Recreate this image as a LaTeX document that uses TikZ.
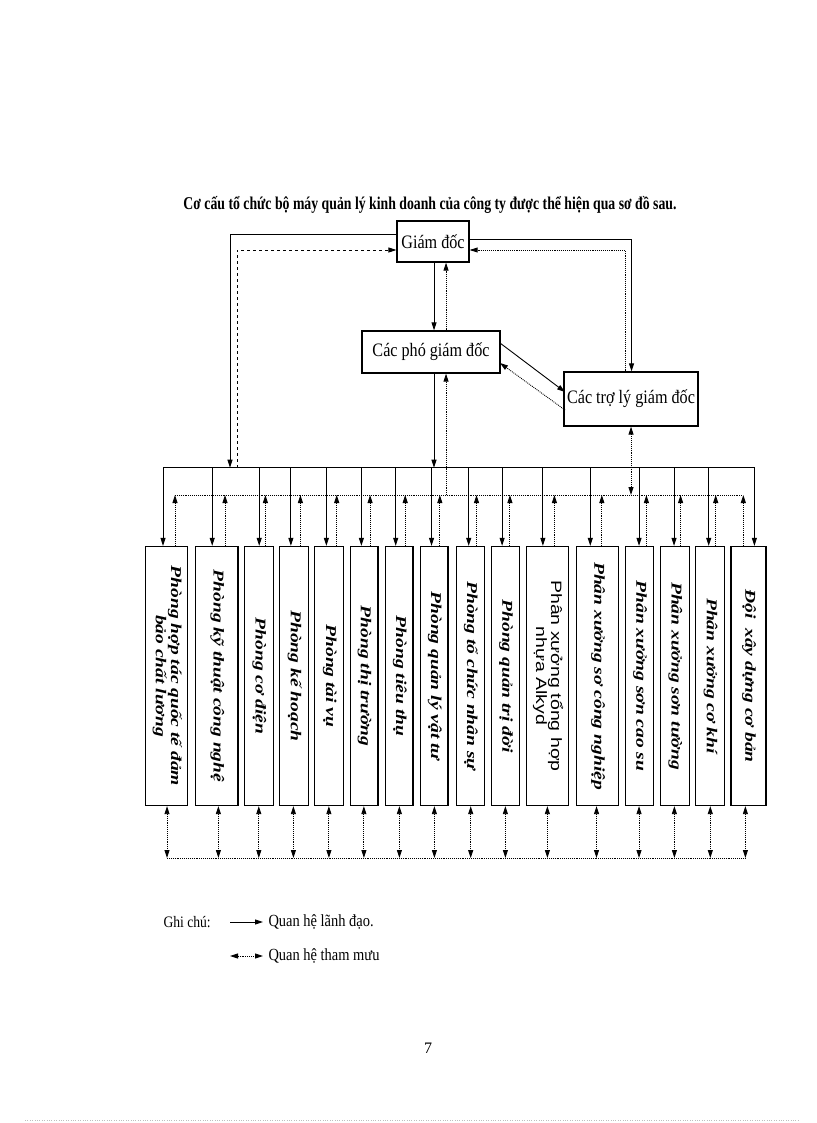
\documentclass[tikz,border=0pt]{standalone}
\usepackage{fontspec}
\setmainfont{Liberation Serif}
\newfontfamily\sansf{Liberation Sans}
\usetikzlibrary{arrows.meta}
\begin{document}
\begin{tikzpicture}[x=1pt,y=-1pt,
  box/.style={draw,line width=1.3pt,inner sep=0pt},
  lead/.style={line width=0.9pt,-{Triangle[length=8pt,width=5pt]}},
  lead0/.style={line width=0.9pt},
  adv/.style={densely dotted,line width=0.9pt,-{Triangle[length=8pt,width=5pt]}},
  adv0/.style={densely dotted,line width=0.9pt},
  advb/.style={densely dotted,line width=0.9pt,{Triangle[length=8pt,width=5pt]}-{Triangle[length=8pt,width=5pt]}},
  vt/.style={rotate=-90,font=\fontsize{15}{14}\selectfont\bfseries\itshape,inner sep=0pt}]
\useasboundingbox (0,0) rectangle (816,1123);
\node (title) at (430,205) {\scalebox{0.765}[1]{\fontsize{18}{20}\selectfont\bfseries Cơ cấu tổ chức bộ máy quản lý kinh doanh của công ty được thể hiện qua sơ đồ sau.}};
\node[box,minimum width=72pt,minimum height=41pt] (gd) at (433,241.5) {\scalebox{0.85}[1]{\fontsize{19}{20}\selectfont Giám đốc}};
\node[box,minimum width=138pt,minimum height=42pt] (pgd) at (431,352) {\scalebox{0.85}[1]{\fontsize{19}{20}\selectfont Các phó giám đốc}};
\node[box,minimum width=134pt,minimum height=54pt] (tl) at (631,399) {\scalebox{0.85}[1]{\fontsize{19}{20}\selectfont Các trợ lý giám đốc}};
% buses
\coordinate (bL) at (163,467.7); \coordinate (bR) at (755,467.7);
\coordinate (dL) at (175,495); \coordinate (dR) at (743,495);
\coordinate (eL) at (167,858); \coordinate (eR) at (745,858);
\draw[lead0] (bL) -- (bR);
\draw[adv0] (dL) -- (dR);
\draw[adv0] (eL) -- (eR);
% GD left
\coordinate (l1) at (230,234); \coordinate (l1b) at (230,467.7);
\draw[lead] (gd.west |- l1) -- (l1) -- (l1b);
\coordinate (l2) at (237,250); \coordinate (l2b) at (237,467.7);
\draw[adv,dashed] (l2b) -- (l2) -- (gd.west |- l2);
% GD right
\coordinate (r1) at (631.5,239);
\draw[lead] (gd.east |- r1) -- (r1) -- (r1 |- tl.north);
\coordinate (r2) at (625,250);
\draw[adv] (tl.north -| r2) -- (r2) -- (gd.east |- r2);
% GD - PGD
\coordinate (c1) at (434,0); \coordinate (c2) at (446,0);
\draw[lead] (gd.south -| c1) -- (pgd.north -| c1);
\draw[adv] (pgd.north -| c2) -- (gd.south -| c2);
\draw[lead] (pgd.south -| c1) -- (bL -| c1);
\draw[adv] (dL -| c2) -- (pgd.south -| c2);
% PGD - TL
\coordinate (p1) at (500,343); \coordinate (t1) at (565,392);
\coordinate (p2) at (500,363); \coordinate (t2) at (565,410);
\draw[lead] (p1) -- (t1);
\draw[adv] (t2) -- (p2);
\draw[advb] (tl.south) -- (dR -| tl.south);
% boxes
\foreach \i/\a/\b/\s/\d/\e/\t in {
 1/145.8/187.8/163/175/167/{Phòng hợp tác quốc tế đảm\\bảo chất lương},
 2/195.3/238.1/212.2/225/218.4/{Phòng kỹ thuật công nghệ},
 3/244.3/273.2/259.2/265.4/258.8/{Phòng cơ điện},
 4/279.8/308.7/290.9/300.4/293.4/{Phòng kế hoạch},
 5/314.8/343.7/326.4/336.7/328.9/{Phòng tài vụ},
 6/350.3/377.9/361.4/370.1/363.9/{Phòng thị trường},
 7/385.8/413/395.7/405.2/399.4/{Phòng tiêu thụ},
 8/420.8/448/431.5/439.8/434.4/{Phòng quản lý vật tư},
 9/456.3/484.7/468.7/476.5/470.7/{Phòng tổ chức nhân sự},
 10/491.3/519.8/502.1/509.9/505.4/{Phòng quản trị đời},
 11/526.8/568.5/542.9/554.4/547.4/{\sansf\mdseries\upshape Phân xưởng tổng hợp\\\sansf\mdseries\upshape nhựa Alkyd},
 12/576.3/618.8/590.3/601.8/596.5/{Phân xưởng sơ công nghiệp},
 13/625.4/653.8/639/646.4/639/{Phân xưởng sơn cao su},
 14/660.4/689.3/674/680.6/674.4/{Phân xưởng sơn tường},
 15/695.5/724.7/708.7/715.7/710.3/{Phân xưởng cơ khí},
 16/730.9/766/754.4/743.3/745.4/{Đội \ xây dựng cơ bản}}{
  \node[box,minimum width={\b-\a},minimum height=259pt] (k\i) at ({(\a+\b)/2},676) {};
  \node[vt] (t\i) at (k\i.center) {\scalebox{1.3}[1]{\begin{tabular}{@{}c@{}}\t\end{tabular}}};
  \coordinate (s\i) at (\s,467.7);
  \coordinate (d\i) at (\d,495);
  \coordinate (e\i) at (\e,858);
  \draw[lead] (s\i) -- (k\i.north -| s\i);
  \draw[adv] (k\i.north -| d\i) -- (d\i);
  \draw[advb] (k\i.south -| e\i) -- (e\i);
}
% legend
\node[anchor=west,font=\fontsize{16}{18}\selectfont] (gc) at (160,922) {\scalebox{0.85}[1]{Ghi chú:}};
\coordinate (a1) at (230,922); \coordinate (a2) at (263,922);
\coordinate (a3) at (230,956); \coordinate (a4) at (263,956);
\draw[lead] (a1) -- (a2);
\draw[advb] (a3) -- (a4);
\node[anchor=west,font=\fontsize{17}{18}\selectfont] (q1) at (265,922) {\scalebox{0.85}[1]{Quan hệ lãnh đạo.}};
\node[anchor=west,font=\fontsize{17}{18}\selectfont] (q2) at (265,956) {\scalebox{0.85}[1]{Quan hệ tham mưu}};
\node[font=\fontsize{16}{18}\selectfont] (pg) at (428,1048) {7};
\coordinate (f1) at (25,1120); \coordinate (f2) at (800,1120);
\draw[dotted,gray!50] (f1) -- (f2);
\end{tikzpicture}
\end{document}
